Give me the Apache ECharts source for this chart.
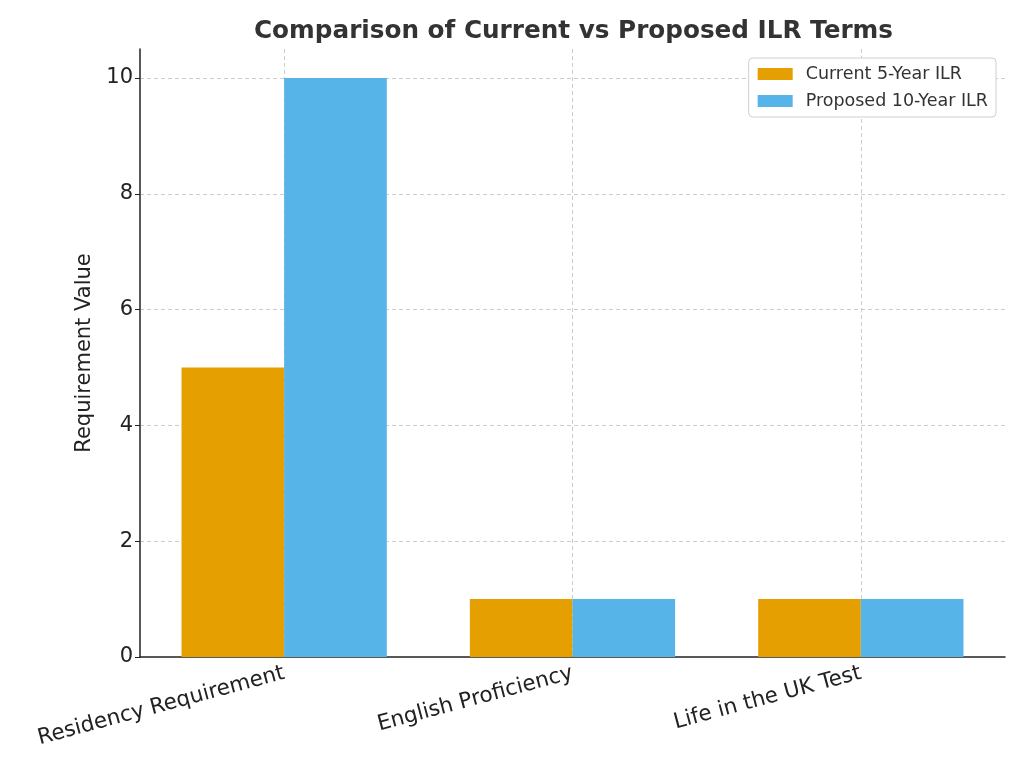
<!DOCTYPE html>
<html><head><meta charset="utf-8">
<script src="https://cdn.jsdelivr.net/npm/echarts@6/dist/echarts.min.js"></script>
<style>html,body{margin:0;padding:0;background:#fff}#c{width:1024px;height:768px}</style>
</head><body><div id="c"></div>
<script>
const categories = ['Residency Requirement', 'English Proficiency', 'Life in the UK Test'];
const currentValues = [5, 1, 1];
const proposedValues = [10, 1, 1];
const seriesNames = ['Current 5-Year ILR', 'Proposed 10-Year ILR'];
const yTicks = { min: 0, max: 10.5, interval: 2 };

// helper axes for the dashed grid (positions only, no data marks)
const xGridSlots = Array.from({ length: categories.length * 2 + 1 }, (_, i) => 'x' + i);
const yGridSlots = Array.from({ length: Math.round(yTicks.max / 0.5) + 1 }, (_, i) => 'y' + i);

const font = 'DejaVu Sans';
const gridLine = { type: [4, 3], color: '#cccccc', width: 1 };
const chart = echarts.init(document.getElementById('c'), null, { renderer: 'canvas' });
chart.setOption({
  animation: false,
  backgroundColor: '#fff',
  title: {
    text: 'Comparison of Current vs Proposed ILR Terms',
    left: 249, top: 14,
    textStyle: { fontFamily: font, fontWeight: 'bold', fontSize: 24.7, color: '#333' }
  },
  legend: {
    orient: 'vertical', right: 28, top: 58,
    icon: 'rect', itemWidth: 35, itemHeight: 12, itemGap: 9,
    padding: [7, 8, 7, 9],
    borderColor: '#d0d0d0', borderWidth: 1, borderRadius: 4, backgroundColor: '#fff',
    textStyle: { fontFamily: font, fontSize: 17.5, color: '#333', padding: [0, 0, 0, 8] },
    data: seriesNames
  },
  grid: { left: 140, right: 19, top: 49, bottom: 111, containLabel: false },
  xAxis: [{
    type: 'category', data: categories,
    axisLine: { lineStyle: { color: '#222', width: 1.5 } },
    axisTick: { alignWithLabel: true, length: 5, lineStyle: { color: '#222' } },
    axisLabel: { rotate: 15, fontFamily: font, fontSize: 21.5, color: '#222', margin: 16, interval: 0 },
    splitLine: { show: false }
  }, {
    type: 'category', data: xGridSlots, boundaryGap: false, position: 'bottom',
    axisLine: { show: false }, axisTick: { show: false }, axisLabel: { show: false },
    splitLine: { show: true, interval: (i) => i % 2 === 1, lineStyle: gridLine }
  }],
  yAxis: [{
    type: 'value', min: yTicks.min, max: yTicks.max, interval: yTicks.interval,
    name: 'Requirement Value', nameLocation: 'middle', nameGap: 20,
    nameTextStyle: { fontFamily: font, fontSize: 21, color: '#222' },
    axisLine: { show: true, lineStyle: { color: '#222', width: 1.5 } },
    axisTick: { show: true, length: 5, lineStyle: { color: '#222' } },
    axisLabel: { fontFamily: font, fontSize: 21, color: '#222', margin: 7, showMaxLabel: false },
    splitLine: { show: false }
  }, {
    type: 'category', data: yGridSlots, boundaryGap: false, position: 'left',
    axisLine: { show: false }, axisTick: { show: false }, axisLabel: { show: false },
    splitLine: { show: true, interval: (i) => i > 0 && i % 4 === 0, lineStyle: gridLine }
  }],
  series: [{
    name: seriesNames[0], type: 'bar', data: currentValues, xAxisIndex: 0, yAxisIndex: 0,
    barWidth: '35.6%', barGap: '0%', itemStyle: { color: '#E69F00' }
  }, {
    name: seriesNames[1], type: 'bar', data: proposedValues, xAxisIndex: 0, yAxisIndex: 0,
    barWidth: '35.6%', barGap: '0%', itemStyle: { color: '#56B4E9' }
  }]
});
</script></body></html>
